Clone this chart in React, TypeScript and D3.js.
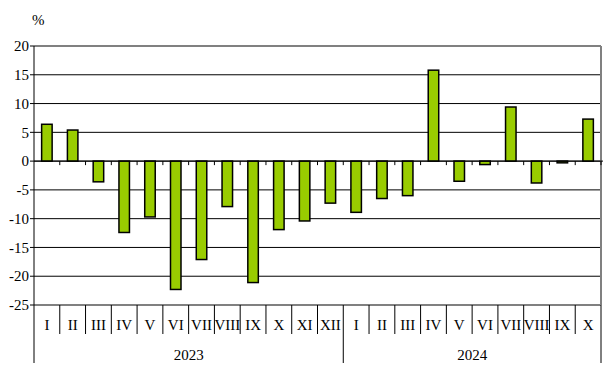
import React from "react";
import * as d3 from "d3";

const months = ["I","II","III","IV","V","VI","VII","VIII","IX","X","XI","XII","I","II","III","IV","V","VI","VII","VIII","IX","X"];
const values = [6.4,5.4,-3.6,-12.4,-9.7,-22.3,-17.1,-7.9,-21.1,-11.9,-10.4,-7.3,-8.9,-6.5,-6.0,15.8,-3.5,-0.6,9.4,-3.8,-0.3,7.3];
const years = [{ label: "2023", start: 0, end: 12 }, { label: "2024", start: 12, end: 22 }];
const yTicks = [20,15,10,5,0,-5,-10,-15,-20,-25];

const W = 608, H = 377;
const left = 34, right = 601, top = 46, bottom = 305;
const font = "Liberation Serif, Times New Roman, Times, DejaVu Serif, serif";
const ts: React.CSSProperties = { fontFamily: font, fontSize: 15 };

export default function App() {
  const x = d3.scaleBand<number>().domain(d3.range(months.length)).range([left, right]).paddingInner(0).paddingOuter(0);
  const y = d3.scaleLinear().domain([-25, 20]).range([bottom, top]);
  const bw = x.bandwidth();
  const barW = 10.5;
  return (
    <svg width={W} height={H} style={{ position: "absolute", left: 0, top: 0 }}>
      <rect x={0} y={0} width={W} height={H} fill="#fff" />
      <text x={32} y={25} style={ts} fill="#000">%</text>
      {yTicks.filter(t => t !== 20 && t !== -25).map(t => (
        <line key={"g" + t} x1={left} x2={right} y1={y(t)} y2={y(t)} stroke="#000" strokeWidth={1} />
      ))}
      <line x1={left} x2={right} y1={y(20)} y2={y(20)} stroke="#808080" strokeWidth={2} />
      <line x1={left} x2={right} y1={y(-25)} y2={y(-25)} stroke="#808080" strokeWidth={2} />
      <line x1={right} x2={right} y1={y(20)} y2={y(-25)} stroke="#808080" strokeWidth={2} />
      {values.map((v, i) => {
        const cx = (x(i) as number) + bw / 2;
        const y0 = y(0), y1 = y(v);
        return (
          <rect key={"b" + i} x={cx - barW / 2} y={Math.min(y0, y1)} width={barW} height={Math.max(Math.abs(y1 - y0), 1)}
            fill="#99cc00" stroke="#000" strokeWidth={1.5} />
        );
      })}
      <line x1={left} x2={right + 2} y1={y(0)} y2={y(0)} stroke="#000" strokeWidth={1} />
      {d3.range(1, months.length + 1).map(i => (
        <line key={"zt" + i} x1={left + i * bw} x2={left + i * bw} y1={y(0)} y2={y(0) + 4} stroke="#000" strokeWidth={1} />
      ))}
      <line x1={left} x2={left} y1={y(20)} y2={363} stroke="#000" strokeWidth={1} />
      {yTicks.map(t => (
        <g key={"yt" + t}>
          <line x1={left - 4} x2={left} y1={y(t)} y2={y(t)} stroke="#000" strokeWidth={1} />
          <text x={29} y={y(t)} dy="0.35em" textAnchor="end" style={ts} fill="#000">{t}</text>
        </g>
      ))}
      {months.map((m, i) => (
        <text key={"m" + i} x={(x(i) as number) + bw / 2} y={330} textAnchor="middle" style={ts} fill="#000">{m}</text>
      ))}
      {d3.range(1, months.length).map(i => (
        <line key={"ms" + i} x1={left + i * bw} x2={left + i * bw} y1={bottom} y2={i === 12 ? 363 : 334} stroke="#000" strokeWidth={1} />
      ))}
      <line x1={right} x2={right} y1={bottom} y2={363} stroke="#000" strokeWidth={1} />
      {years.map(yr => (
        <text key={yr.label} x={left + ((yr.start + yr.end) / 2) * bw} y={360} textAnchor="middle" style={ts} fill="#000">{yr.label}</text>
      ))}
    </svg>
  );
}
